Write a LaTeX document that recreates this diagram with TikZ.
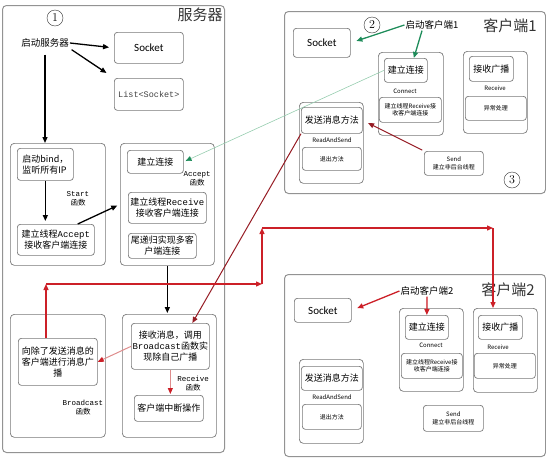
\documentclass[tikz,border=0pt]{standalone}
\usepackage{fontspec}
\setmonofont{Liberation Mono}
\newfontfamily\cjk{Noto Sans CJK SC}
\newfontfamily\sockfont{Carlito}
\usepackage{tikz}
\usetikzlibrary{arrows.meta}
\definecolor{rd}{RGB}{204,32,40}
\definecolor{pk}{RGB}{222,140,140}
\definecolor{drd}{RGB}{150,28,36}
\definecolor{gn}{RGB}{30,140,90}
\definecolor{gnl}{RGB}{150,205,175}
\definecolor{edge}{RGB}{120,120,120}

\begin{document}
\begin{tikzpicture}[x=1pt,y=-1pt,>={Triangle[length=6pt,width=5pt]},
    sz/.style 2 args={minimum width=#1,minimum height=#2},
    outer/.style={draw=edge!80,rounded corners=4pt,anchor=north west,line width=1pt,inner sep=0pt},
    grp/.style={draw=edge,rounded corners=4pt,anchor=north west,line width=0.7pt,inner sep=0pt},
    box/.style={draw=edge,rounded corners=3pt,anchor=north west,align=center,inner sep=1pt,line width=0.7pt,font=\cjk\fontsize{9}{11}\selectfont},
    tiny/.style={font=\cjk\fontsize{6}{7.5}\selectfont,align=center,inner sep=0pt},
    lbl/.style={font=\cjk\fontsize{7.5}{9}\selectfont,align=center,inner sep=0pt},
    txt/.style={font=\cjk\fontsize{9.5}{11}\selectfont,inner sep=1pt},
    ttl/.style={font=\cjk\fontsize{15}{17}\selectfont,text=black!80,inner sep=0pt},
    num/.style={draw=black!80,circle,minimum size=16pt,inner sep=0pt,font=\fontsize{12}{12}\selectfont},
    sock/.style={font=\sockfont\fontsize{11}{13}\selectfont},
    blk/.style={->,line width=1.3pt},
    rdarr/.style={->,draw=rd,fill=rd,line width=1.3pt},
    pnk/.style={->,draw=pk,line width=1pt,arrows={-Triangle[length=6pt,width=5pt,color=rd]}},
    dred/.style={->,draw=drd,line width=1pt},
    grn/.style={->,draw=gn,line width=1.3pt},
    grnl/.style={->,draw=gnl,line width=0.6pt,arrows={-Triangle[length=6pt,width=5pt,color=gn]}}]
    \useasboundingbox (0,0) rectangle (546,458);

    \node[outer,sz={222}{447}] (server) at (2,5) {};
    \node[ttl] (serverT) at (200,15) {服务器};
    \node[num] (n1) at (55,18) {1};
    \node[txt] (startS) at (45,43) {启动服务器};
    \node[box,sz={69}{31},sock] (sockS) at (114,32) {Socket};
    \node[box,sz={69}{32},font=\ttfamily\fontsize{8.5}{10}\selectfont,text=black!75] (listS) at (114,78) {List<Socket>};
    \draw[blk,shorten >=5pt] (startS.east) -- (sockS.west);
    \draw[blk,shorten >=9pt,shorten <=2pt] (startS.south east) -- (listS.north west);

    \node[grp,sz={95}{122}] (startG) at (10,143) {};
    \node[box,sz={56}{32},align=left] (bindS) at (17,148) {启动bind，\\监听所有IP};
    \node[box,sz={77}{31}] (acceptT) at (17,224) {建立线程{\ttfamily Accept}\\接收客户端连接};
    \node[lbl] (startL) at (78,199) {{\ttfamily Start}\\函数};
    \draw[blk,shorten <=6pt] (startS.south) -- (startS.south |- startG.north);
    \draw[blk,shorten >=3pt] (bindS.south) -- (bindS.south |- acceptT.north);

    \node[grp,sz={94}{122}] (acceptG) at (120,143) {};
    \node[box,sz={56}{23}] (connS) at (127,150) {建立连接};
    \node[lbl] (acceptL) at (197,179) {{\ttfamily Accept}\\函数};
    \node[box,sz={78}{31}] (recvT) at (128,192) {建立线程{\ttfamily Receive}\\接收客户端连接};
    \node[box,sz={68}{25}] (tailS) at (128,233) {尾递归实现多客\\户端连接};
    \draw[blk,shorten >=3pt] ([xshift=-17pt]acceptT.north east) -- (acceptG.west);

    \node[grp,sz={94}{123}] (recvG) at (122,314) {};
    \node[box,sz={78}{46}] (bcastS) at (131,323) {接收消息，调用\\{\ttfamily Broadcast}函数实\\现除自己广播};
    \node[lbl] (recvL) at (193,384) {{\ttfamily Receive}\\函数};
    \node[box,sz={69}{26}] (breakS) at (134,395) {客户端中断操作};
    \draw[blk,shorten >=1pt] (acceptG.south) -- (acceptG.south |- recvG.north);

    \node[grp,sz={95}{123}] (bcG) at (10,314) {};
    \node[box,sz={79}{47}] (sendAll) at (18,338) {向除了发送消息的\\客户端进行消息广\\播};
    \node[lbl] (bcL) at (83,408) {{\ttfamily Broadcast}\\函数};
    \draw[pnk,shorten >=1pt] (bcastS.south) -- (bcastS.south |- breakS.north);
    \draw[pnk] (bcastS.west) -- (sendAll.east);

    \node[outer,sz={261}{182}] (c1) at (284,11) {};
    \node[ttl] (c1T) at (510,26) {客户端1};
    \node[num] (n2) at (372,25) {2};
    \node[num] (n3) at (512,180) {3};
    \node[txt] (startC1) at (432,25) {启动客户端1};
    \node[box,sz={57}{29},sock] (sock1) at (293,28) {Socket};
    \node[grp,sz={65}{83}] (conn1G) at (378,52) {};
    \node[box,sz={43}{24}] (conn1) at (384,58) {建立连接};
    \node[tiny] (conn1L) at (405,91) {Connect};
    \node[box,sz={62}{25},tiny] (thr1) at (379,97) {建立线程Receive接\\收客户端连接};
    \node[grp,sz={64}{82}] (rcv1G) at (463,51) {};
    \node[box,sz={44}{25}] (rcv1) at (469,56) {接收广播};
    \node[tiny] (rcv1L) at (495,88) {Receive};
    \node[box,sz={61}{24},tiny] (exc1) at (465,96) {异常处理};
    \node[grp,sz={64}{81}] (rs1G) at (299,102) {};
    \node[box,sz={61}{26}] (send1) at (301,107) {发送消息方法};
    \node[tiny] (rs1L) at (332,140) {ReadAndSend};
    \node[box,sz={59}{23},tiny] (quit1) at (302,147) {退出方法};
    \node[box,sz={59}{24},tiny] (bg1) at (424,151) {Send\\建立非后台线程};
    \draw[grn,shorten >=6pt] (startC1.west) -- (sock1.east);
    \draw[grn] ([xshift=-10pt]startC1.south) -- ([xshift=8pt]conn1.north);
    \draw[grnl,shorten >=2pt] (conn1.west) -- (connS.east);
    \draw[dred,shorten >=6pt,shorten <=2pt] (bg1.north west) -- (send1.east);
    \draw[dred] (send1.south west) -- ([xshift=22pt]bcastS.north);

    \node[outer,sz={261}{182}] (c2) at (284,274) {};
    \node[ttl] (c2T) at (508,290) {客户端2};
    \node[txt] (startC2) at (427,291) {启动客户端2};
    \node[box,sz={57}{24},sock] (sock2) at (294,298) {Socket};
    \node[grp,sz={64}{83}] (conn2G) at (399,308) {};
    \node[box,sz={43}{24}] (conn2) at (405,315) {建立连接};
    \node[tiny] (conn2L) at (431,345) {Connect};
    \node[box,sz={61}{25},tiny] (thr2) at (401,353) {建立线程Receive接\\收客户端连接};
    \node[grp,sz={64}{84}] (rcv2G) at (473,308) {};
    \node[box,sz={44}{24}] (rcv2) at (478,315) {接收广播};
    \node[tiny] (rcv2L) at (498,347) {Receive};
    \node[box,sz={61}{25},tiny] (exc2) at (474,353) {异常处理};
    \node[grp,sz={64}{84}] (rs2G) at (299,359) {};
    \node[box,sz={61}{24}] (send2) at (301,366) {发送消息方法};
    \node[tiny] (rs2L) at (332,397) {ReadAndSend};
    \node[box,sz={59}{25},tiny] (quit2) at (302,404) {退出方法};
    \node[box,sz={60}{26},tiny] (bg2) at (423,405) {Send\\建立非后台线程};
    \draw[rdarr,shorten >=6pt] (startC2.west) -- (sock2.east);
    \draw[rdarr] (startC2.south) -- (conn2.north);

    \coordinate (r1) at (46,284);
    \coordinate (r2) at (262,284);
    \coordinate (r3) at (262,228);
    \coordinate (r4) at (493,228);
    \draw[rdarr] (sendAll.north -| r1) -- (r1);
    \draw[rdarr] (r1) -- (r2);
    \draw[rdarr] (r2) -- (r3);
    \draw[rdarr] (r3) -- (r4);
    \draw[rdarr] (r4) -- (r4 |- rcv2G.north);
\end{tikzpicture}
\end{document}
